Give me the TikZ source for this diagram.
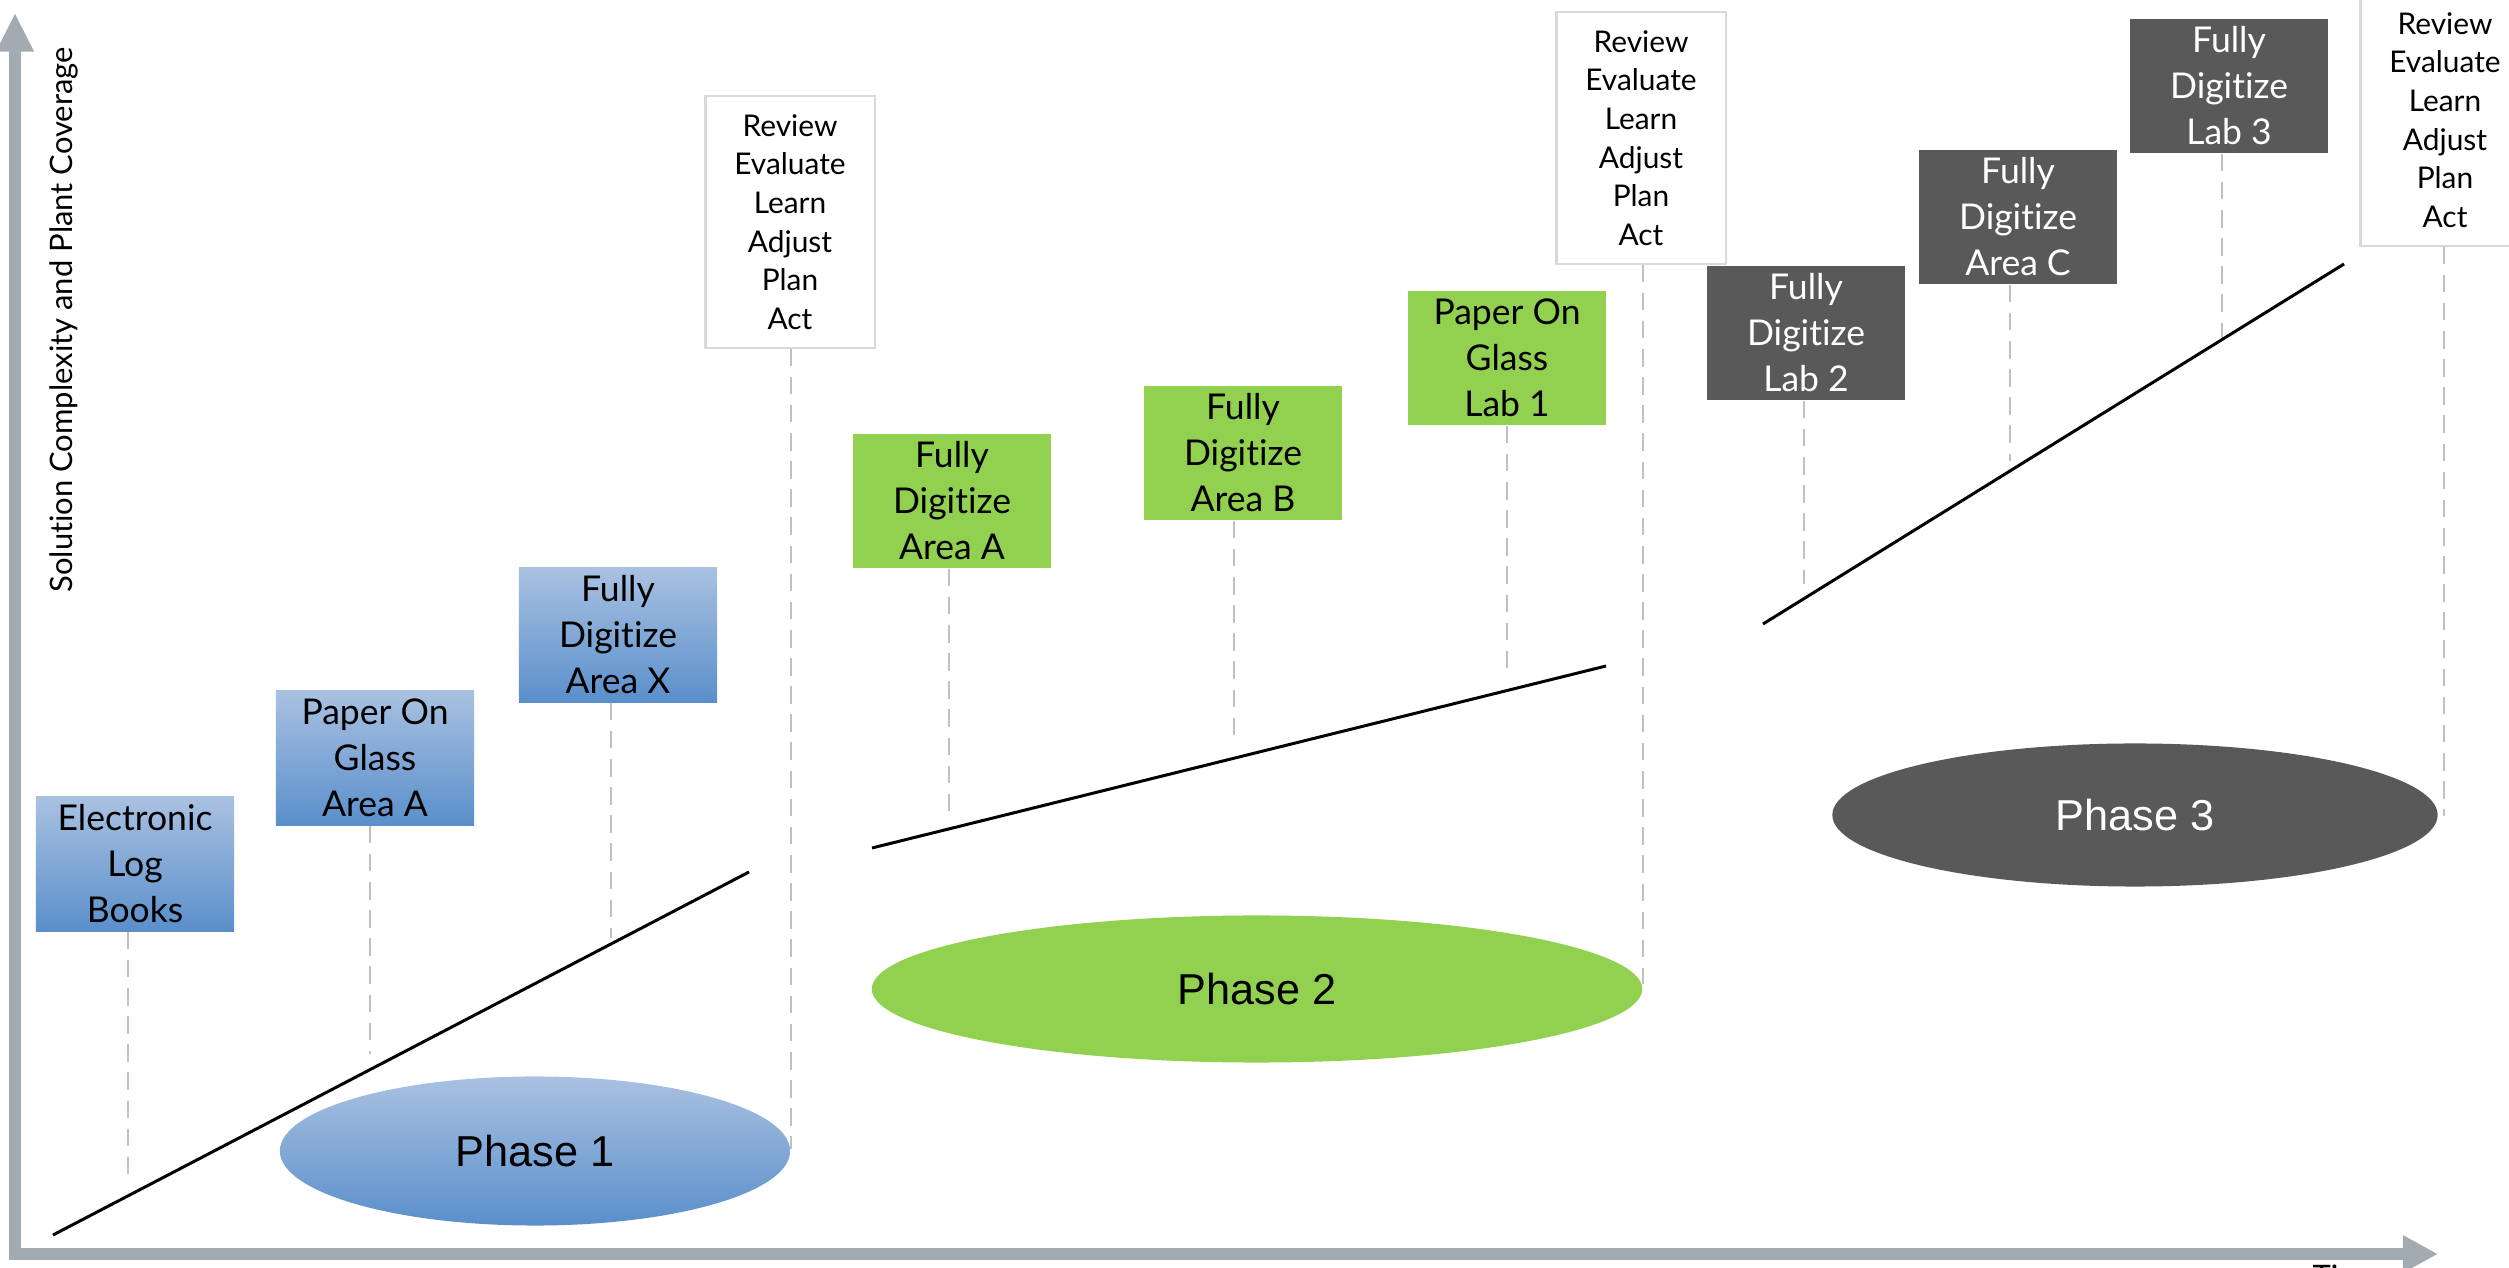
\documentclass[tikz,border=0pt]{standalone}
\usepackage{fontspec}
\setmainfont{Lato}[Ligatures={NoCommon}]
\newfontfamily\phasefont{Liberation Sans}
\usetikzlibrary{arrows.meta,shapes.geometric}
\definecolor{blueTop}{HTML}{A9C1E1}
\definecolor{blueBot}{HTML}{5A8FCB}
\definecolor{greenF}{HTML}{92D050}
\definecolor{darkF}{HTML}{595959}
\definecolor{axisC}{HTML}{A2ABB1}
\definecolor{dashC}{HTML}{C0C0C0}
\definecolor{reviewB}{HTML}{D9D9D9}
\begin{document}
\begin{tikzpicture}[x=0.01cm,y=-0.01cm,
  stepbox/.style={rectangle, inner sep=0pt, minimum width=19.8mm, minimum height=13.4mm, align=center, font=\fontsize{10.1}{13.1}\selectfont},
  bluebox/.style={stepbox, top color=blueTop, bottom color=blueBot},
  greenbox/.style={stepbox, fill=greenF},
  darkbox/.style={stepbox, fill=darkF, text=white},
  reviewbox/.style={rectangle, draw=reviewB, line width=0.6pt, fill=white, inner sep=0pt, minimum width=16.9mm, minimum height=25.1mm, align=center, font=\fontsize{8.5}{11}\selectfont},
  phase/.style={ellipse, inner sep=0pt, font=\phasefont\fontsize{12.3}{14}\selectfont},
  guide/.style={draw=dashC, line width=0.7pt, dash pattern=on 5pt off 3pt},
  trend/.style={draw=black, line width=0.85pt},
  axis/.style={draw=axisC, line width=3.4pt, {Triangle[length=11pt,width=10pt]}-{Triangle[length=10pt,width=10pt]}},
]
\useasboundingbox (0,0) rectangle (2509,1268);

% axes
\coordinate (ytip) at (15,13);
\coordinate (origin) at (15,1254);
\coordinate (xtip) at (2438,1254);
\draw[axis] (ytip) -- (origin) -- (xtip);
\node[rotate=90, inner sep=0pt, font=\fontsize{8.8}{10}\selectfont] (ylab) at (64,320) {Solution Complexity and Plant Coverage};
\node[anchor=north west, inner sep=0pt, font=\fontsize{8.8}{10}\selectfont] (time) at (2312,1264) {Time};

% boxes
\node[bluebox] (b1) at (135,864) {Electronic\\Log\\Books};
\node[bluebox] (b2) at (375,758) {Paper On\\Glass\\Area A};
\node[bluebox] (b3) at (618,635) {Fully\\Digitize\\Area X};
\node[reviewbox] (r1) at (790,222) {Review\\Evaluate\\Learn\\Adjust\\Plan\\Act};
\node[greenbox] (g1) at (952,501) {Fully\\Digitize\\Area A};
\node[greenbox] (g2) at (1243,453) {Fully\\Digitize\\Area B};
\node[greenbox] (g3) at (1507,358) {Paper On\\Glass\\Lab 1};
\node[reviewbox] (r2) at (1641,138) {Review\\Evaluate\\Learn\\Adjust\\Plan\\Act};
\node[darkbox] (d1) at (1806,333) {Fully\\Digitize\\Lab 2};
\node[darkbox] (d2) at (2018,217) {Fully\\Digitize\\Area C};
\node[darkbox] (d3) at (2229,86) {Fully\\Digitize\\Lab 3};
\node[reviewbox] (r3) at (2445,120) {Review\\Evaluate\\Learn\\Adjust\\Plan\\Act};

% guide end points
\coordinate (e1) at (128,1179);
\coordinate (e2) at (370,1054);
\coordinate (e3) at (611,938);
\coordinate (e4) at (791,1149);
\coordinate (e5) at (949,813);
\coordinate (e6) at (1234,744);
\coordinate (e7) at (1507,669);
\coordinate (e8) at (1643,984);
\coordinate (e9) at (1804,584);
\coordinate (e10) at (2010,461);
\coordinate (e11) at (2222,339);
\coordinate (e12) at (2444,816);

\draw[guide] (e1 |- b1.south) -- (e1);
\draw[guide] (e2 |- b2.south) -- (e2);
\draw[guide] (e3 |- b3.south) -- (e3);
\draw[guide] (e4 |- r1.south) -- (e4);
\draw[guide] (e5 |- g1.south) -- (e5);
\draw[guide] (e6 |- g2.south) -- (e6);
\draw[guide] (e7 |- g3.south) -- (e7);
\draw[guide] (e8 |- r2.south) -- (e8);
\draw[guide] (e9 |- d1.south) -- (e9);
\draw[guide] (e10 |- d2.south) -- (e10);
\draw[guide] (e11 |- d3.south) -- (e11);
\draw[guide] (e12 |- r3.south) -- (e12);

% phases
\node[phase, minimum width=51mm, minimum height=14.9mm, top color=blueTop, bottom color=blueBot] (p1) at (535,1151) {Phase 1};
\node[phase, minimum width=77mm, minimum height=14.7mm, fill=greenF] (p2) at (1257,989) {Phase 2};
\node[phase, minimum width=60.5mm, minimum height=14.3mm, fill=darkF, text=white] (p3) at (2135,815) {Phase 3};

% trend lines
\coordinate (t1a) at (53,1235);
\coordinate (t1b) at (749,872);
\coordinate (t2a) at (872,848);
\coordinate (t2b) at (1606,666);
\coordinate (t3a) at (1763,624);
\coordinate (t3b) at (2344,264);
\draw[trend] (t1a) -- (t1b);
\draw[trend] (t2a) -- (t2b);
\draw[trend] (t3a) -- (t3b);
\end{tikzpicture}
\end{document}
